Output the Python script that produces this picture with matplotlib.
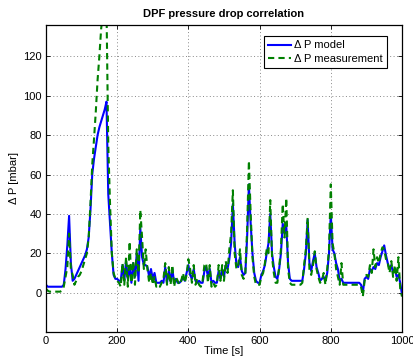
import numpy as np
import matplotlib
matplotlib.use("Agg")
import matplotlib.pyplot as plt

# time axis, 5 s steps
time = np.arange(0, 1001, 5)

dp_model = [
    4, 3, 3, 3, 3, 3, 3, 3, 3, 3,
    4, 12, 24, 39, 15, 6, 7, 9, 11, 13,
    15, 17, 19, 22, 28, 42, 60, 68, 74, 80,
    84, 87, 90, 93, 97, 50, 35, 20, 9, 7,
    7, 6, 6, 14, 6, 16, 7, 13, 5, 15,
    8, 20, 6, 33, 18, 14, 14, 13, 8, 12,
    7, 10, 5, 5, 5, 6, 5, 13, 5, 11,
    6, 12, 5, 7, 5, 5, 6, 8, 6, 10,
    14, 9, 7, 12, 6, 5, 6, 5, 5, 11,
    13, 8, 12, 5, 6, 5, 5, 11, 7, 12,
    8, 14, 12, 17, 25, 45, 25, 14, 13, 18,
    11, 9, 10, 28, 55, 35, 20, 10, 6, 5,
    5, 9, 11, 14, 20, 25, 40, 20, 13, 8,
    7, 12, 20, 35, 30, 34, 15, 7, 6, 6,
    6, 6, 6, 6, 6, 12, 20, 37, 15, 11,
    16, 20, 13, 10, 6, 7, 8, 6, 10, 20,
    40, 22, 20, 15, 12, 6, 7, 5, 5, 5,
    5, 5, 5, 5, 5, 5, 5, 4, 0, 7,
    8, 7, 12, 11, 13, 12, 15, 14, 18, 21,
    24, 19, 15, 12, 14, 10, 12, 8, 9, 5,
    -1,
]

dp_meas = [
    2, 1, 0.5, 0.5, 0.5, 0.5, 0.5, 0.5, 0.5, 1,
    3, 8, 13, 30, 12, 9, 4, 6, 8, 9,
    11, 14, 17, 20, 28, 45, 65, 78, 92, 108,
    120, 134, 142, 146, 145, 75, 45, 20, 10, 7,
    6, 5, 3, 15, 4, 18, 3, 26, 5, 16,
    4, 22, 10, 42, 28, 12, 22, 12, 5, 10,
    4, 8, 3, 4, 3, 5, 7, 15, 4, 13,
    4, 14, 3, 8, 6, 4, 6, 10, 5, 9,
    17, 12, 5, 14, 4, 7, 4, 3, 6, 14,
    15, 5, 14, 3, 5, 3, 4, 14, 6, 14,
    6, 16, 10, 22, 30, 52, 20, 12, 14, 22,
    9, 7, 10, 32, 67, 40, 18, 8, 4, 4,
    4, 8, 10, 15, 22, 20, 47, 18, 10, 5,
    5, 13, 22, 45, 28, 48, 12, 5, 4, 4,
    4, 4, 4, 4, 5, 14, 22, 38, 12, 9,
    14, 21, 12, 8, 5, 6, 10, 4, 12, 22,
    55, 25, 20, 12, 8, 4, 15, 4, 4, 4,
    4, 4, 4, 4, 4, 4, 4, 3, -2, 6,
    9, 8, 14, 10, 22, 13, 18, 15, 20, 23,
    22, 17, 15, 10, 16, 8, 14, 6, 18, 2,
    -2,
]

plt.rcParams['font.family'] = ['Liberation Sans', 'DejaVu Sans']
plt.rcParams['font.size'] = 8

fig = plt.figure(figsize=(4.14, 3.63), dpi=100)
ax = fig.add_axes([0.111, 0.0854, 0.86, 0.846])

ax.plot(time, dp_model, color='#0000ff', lw=1.5, label='\u0394 P model')
ax.plot(time, dp_meas, color='#008000', lw=1.5, ls='--', dashes=(3, 2),
        label='\u0394 P measurement')

ax.set_xlim(0, 1000)
ax.set_ylim(-20, 136)
ax.set_xticks(np.arange(0, 1001, 200))
ax.set_yticks(np.arange(0, 121, 20))
ax.grid(True, color='#888888', ls=(0, (1, 2.5)), lw=0.7)
ax.tick_params(direction='in', top=True, right=True, length=3, width=0.6, pad=3)
for s in ax.spines.values():
    s.set_linewidth(0.9)

ax.set_title('DPF pressure drop correlation', fontweight='bold', fontsize=8, pad=6)
ax.set_xlabel('Time [s]', labelpad=0)
ax.set_ylabel('\u0394 P [mbar]', labelpad=3)

leg = ax.legend(loc='upper right', fancybox=False, edgecolor='black',
                framealpha=1, handlelength=2.0, handletextpad=0.3,
                borderaxespad=0, borderpad=0.4, labelspacing=0.3,
                bbox_to_anchor=(0.958, 0.964))
leg.get_frame().set_linewidth(0.8)

fig.savefig('out.png', dpi=100)
